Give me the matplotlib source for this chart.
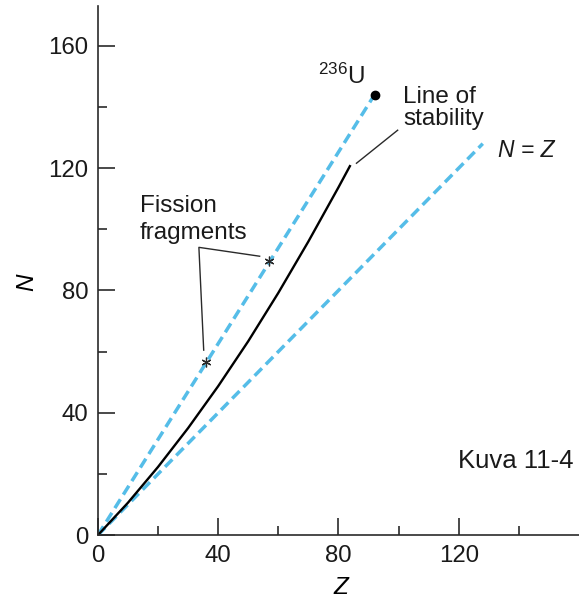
"""Neutron number vs proton number: line of stability and fission of 236U."""

import matplotlib
matplotlib.use("Agg")
import matplotlib.pyplot as plt

plt.rcParams["font.family"] = ["Liberation Sans", "DejaVu Sans"]
plt.rcParams["mathtext.fontset"] = "custom"
plt.rcParams["mathtext.rm"] = "Liberation Sans"
plt.rcParams["mathtext.it"] = "Liberation Sans:italic"

# data
stab_z = [0, 10, 20, 30, 40, 50, 60, 70, 80, 84]
stab_n = [0, 10.6, 22.3, 35.0, 48.7, 63.4, 79.2, 96.0, 113.7, 121.0]
nz_z = [0, 128]
nz_n = [0, 128]
u236 = (92, 144)
fragments_z = [36, 57]
fragments_n = [56.5, 89.5]

x_major = [0, 40, 80, 120]
y_major = [0, 40, 80, 120, 160]
x_minor = [20, 60, 100, 140]
y_minor = [20, 60, 100, 140]

BLUE = "#55bde8"
DARK = "#2a2a2a"
TXT = "#1a1a1a"

fig = plt.figure(figsize=(5.79, 6.02), dpi=100)
ax = fig.add_axes([0.169, 0.111, 0.831, 0.879])

# fission line from origin to 236U, N = Z line, line of stability
ax.plot([0, u236[0]], [0, u236[1]], color=BLUE, lw=2.5, ls=(0, (3, 1.6)))
ax.plot(nz_z, nz_n, color=BLUE, lw=2.5, ls=(0, (3, 1.6)))
ax.plot(stab_z, stab_n, color="black", lw=1.7, solid_capstyle="butt")
ax.plot([u236[0]], [u236[1]], "o", color="black", ms=6)
ax.plot(fragments_z, fragments_n, ls="none", marker=(6, 2, 0), ms=7,
        color=DARK, mew=0.9)

# leader lines
ax.plot([53.8, 33.6, 35.2], [91.2, 94.1, 60.5], color=DARK, lw=1.0)
ax.plot([86.0, 99.7], [121.6, 132.4], color=DARK, lw=1.0)

fs = 17.5
ax.text(14.0, 105.6, "Fission", fontsize=fs, va="baseline", color=TXT)
ax.text(14.0, 96.7, "fragments", fontsize=fs, va="baseline", color=TXT)
ax.text(101.5, 141.2, "Line of", fontsize=fs, va="baseline", color=TXT)
ax.text(101.5, 134.0, "stability", fontsize=fs, va="baseline", color=TXT)
ax.text(133.1, 123.5, "N = Z", fontsize=16.5, style="italic",
        va="baseline", color=TXT)
ax.text(88.7, 147.4, r"$^{236}$U", fontsize=fs, va="baseline", ha="right",
        color=TXT)

fig.text(0.791, 0.2226, "Kuva 11-4", fontsize=18.5, va="baseline", ha="left",
         color=TXT)

ax.set_xlim(0, 160)
ax.set_ylim(0, 173)
ax.set_xticks(x_major)
ax.set_yticks(y_major)
ax.set_xticks(x_minor, minor=True)
ax.set_yticks(y_minor, minor=True)
ax.tick_params(which="both", direction="in", color=DARK, width=1.2,
               labelsize=17.3, labelcolor=TXT)
ax.tick_params(which="major", length=12.5, pad=7)
ax.tick_params(which="minor", length=6.2)

for side in ("top", "right"):
    ax.spines[side].set_visible(False)
for side in ("left", "bottom"):
    ax.spines[side].set_color(DARK)
    ax.spines[side].set_linewidth(1.2)

ax.set_xlabel("Z", fontsize=17.5, style="italic")
ax.set_ylabel("N", fontsize=17.5, style="italic")
ax.xaxis.set_label_coords(0.505, -0.0775)
ax.yaxis.set_label_coords(-0.148, 0.478)
ax.yaxis.label.set_va("center")

fig.savefig("out.png", dpi=100)
